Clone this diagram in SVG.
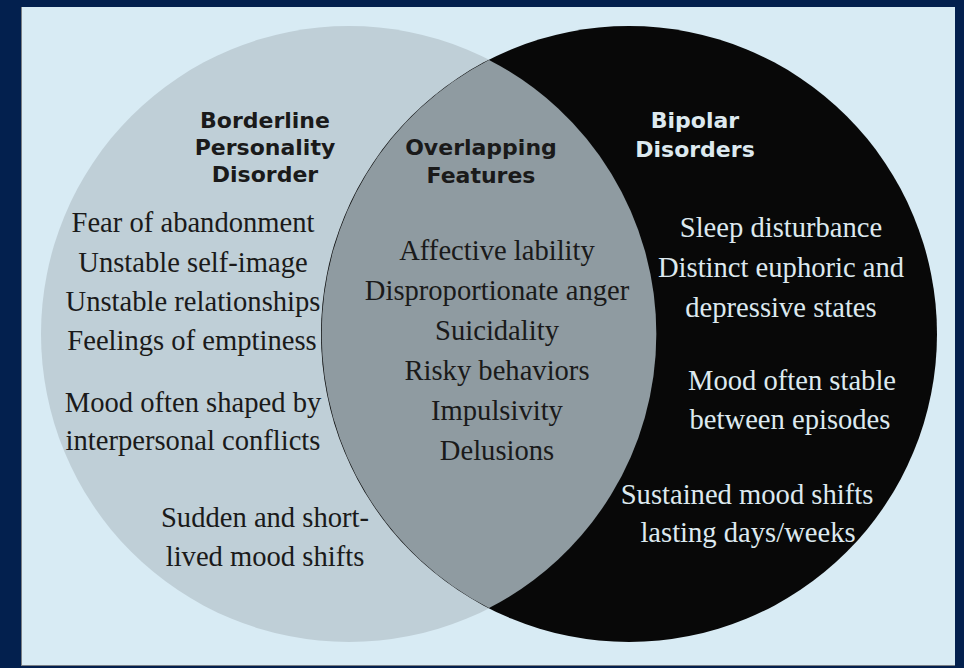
<svg xmlns="http://www.w3.org/2000/svg" width="964" height="668" viewBox="0 0 964 668">
<style>
.title{font-family:"DejaVu Sans","Lato",sans-serif;font-weight:bold;font-size:22px;text-anchor:middle;}
.body{font-family:"Liberation Serif","Times New Roman",serif;font-size:28.6px;text-anchor:middle;}
.dark{fill:#1a1a1a;}
.light{fill:#dde9ef;}
</style>
<rect x="0" y="0" width="964" height="668" fill="#03204e"/>
<rect x="21" y="7" width="934" height="659" fill="#7a7f84"/>
<rect x="22" y="7" width="933" height="658" fill="#d8ebf4"/>
<g id="bpd">
<circle cx="349" cy="334" r="308" fill="#bfcfd7"/>
</g>
<g id="bipolar">
<circle cx="629" cy="334" r="308" fill="#080808"/>
</g>
<g id="overlap">
<path d="M 489 60 A 308 308 0 0 0 489 608 A 308 308 0 0 0 489 60 Z" fill="#8f9ba1"/>
</g>
<g id="bpd-text" class="dark">
<text class="title" x="265" y="128">Borderline</text>
<text class="title" x="265" y="155">Personality</text>
<text class="title" x="265" y="182">Disorder</text>
<text class="body" x="193" y="232">Fear of abandonment</text>
<text class="body" x="193" y="272">Unstable self-image</text>
<text class="body" x="193" y="311">Unstable relationships</text>
<text class="body" x="192" y="350">Feelings of emptiness</text>
<text class="body" x="193" y="412">Mood often shaped by</text>
<text class="body" x="193" y="450">interpersonal conflicts</text>
<text class="body" x="265" y="527">Sudden and short-</text>
<text class="body" x="265" y="566">lived mood shifts</text>
</g>
<g id="overlap-text" class="dark">
<text class="title" x="481" y="155">Overlapping</text>
<text class="title" x="481" y="183">Features</text>
<text class="body" x="497" y="260">Affective lability</text>
<text class="body" x="497" y="300">Disproportionate anger</text>
<text class="body" x="497" y="340">Suicidality</text>
<text class="body" x="497" y="380">Risky behaviors</text>
<text class="body" x="497" y="420">Impulsivity</text>
<text class="body" x="497" y="460">Delusions</text>
</g>
<g id="bipolar-text" class="light">
<text class="title" x="695" y="128">Bipolar</text>
<text class="title" x="695" y="157">Disorders</text>
<text class="body" x="781" y="237">Sleep disturbance</text>
<text class="body" x="781" y="277">Distinct euphoric and</text>
<text class="body" x="781" y="317">depressive states</text>
<text class="body" x="792" y="390">Mood often stable</text>
<text class="body" x="790" y="429">between episodes</text>
<text class="body" x="747" y="504">Sustained mood shifts</text>
<text class="body" x="748" y="542">lasting days/weeks</text>
</g>
<g id="connectors"/>
</svg>
